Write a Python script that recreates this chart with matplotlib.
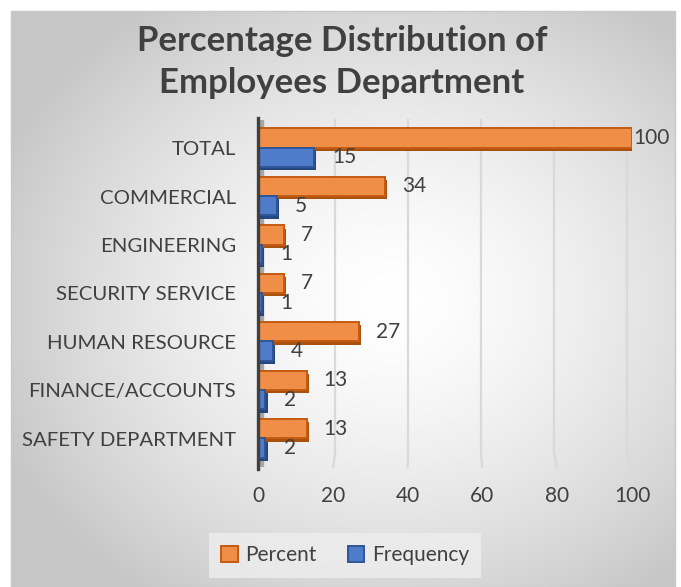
import numpy as np
import matplotlib
matplotlib.use("Agg")
import matplotlib.pyplot as plt
from matplotlib.patches import Patch, Rectangle

# ── Data ──────────────────────────────────────────────────────────────────────
departments = ["TOTAL", "COMMERCIAL", "ENGINEERING", "SECURITY SERVICE",
               "HUMAN RESOURCE", "FINANCE/ACCOUNTS", "SAFETY DEPARTMENT"]
percent   = [100, 34, 7, 7, 27, 13, 13]
frequency = [15, 5, 1, 1, 4, 2, 2]
x_ticks   = [0, 20, 40, 60, 80, 100]

plt.rcParams["font.family"] = ["Lato", "DejaVu Sans"]
TXT = "#404040"

W, H = 681, 587
fig = plt.figure(figsize=(W / 100, H / 100), dpi=100)

# ── Chart area background: radial grey shading ───────────────────────────────
bg = fig.add_axes([0, 0, 1, 1], zorder=-10)
bg.set_xlim(0, W); bg.set_ylim(H, 0); bg.axis("off")
px0, px1, py0, py1 = 11, 675, 11, 587
yy, xx = np.mgrid[py0:py1, px0:px1]
r = np.hypot((xx - 390) / 420, (yy - 300) / 360)
shade = 1 - 0.22 * np.clip(r, 0, 1) ** 1.5
bg.imshow(np.dstack([shade] * 3), extent=(px0, px1, py1, py0), aspect="auto")
bg.add_patch(Rectangle((px0, py0), px1 - px0, py1 - py0, fill=False,
                       edgecolor="#c8c8c8", lw=1))

# ── Bars ──────────────────────────────────────────────────────────────────────
ax = fig.add_axes([258 / W, 1 - 467 / H, 374 / W, 347 / H])
ax.patch.set_alpha(0)
ax.set_xlim(0, 100)
ax.set_ylim(6.58, -0.58)
for s in ax.spines.values():
    s.set_visible(False)

y = np.arange(len(departments))
h = 0.40
dx, dy = 1.0, 0.07   # depth of the 3-D bars

# back-wall grid lines bending onto the floor
xt = ax.get_xaxis_transform()
for v in x_ticks[1:]:
    back = v - (v - 45) * 0.025
    ax.plot([back, back], [0.045, 1.0], transform=xt,
            color="#d9d9d9", lw=1.6, zorder=0, clip_on=False)
    ax.plot([back, v - (v - 45) * 0.005], [0.045, 0.0], transform=xt,
            color="#d9d9d9", lw=1.6, zorder=0, clip_on=False)

# side wall next to the category axis
ax.axvspan(0, 1.3, color="#a6a6a6", zorder=1)
ax.axvline(0, color="#404040", lw=2.4, zorder=6, ymin=-0.005, ymax=1.005,
           clip_on=False)

y_pct = y - 0.21
y_frq = y + 0.19

# depth faces
ax.barh(y_pct + dy, percent, height=h, left=dx * 0.6, color="#a9510f", zorder=2)
ax.barh(y_frq + dy, frequency, height=h, left=dx * 0.6, color="#25467f", zorder=2)
# front faces
ax.barh(y_pct, percent, height=h, color="#f08d47", edgecolor="#c55a11",
        lw=1.4, zorder=3)
ax.barh(y_frq, frequency, height=h, color="#4f7bcb", edgecolor="#2f5597",
        lw=1.4, zorder=3)

# value labels
for yp, v in zip(y_pct, percent):
    off = 1 if v >= 100 else 12
    ax.annotate(str(v), (v, yp), xytext=(off, 0), textcoords="offset points",
                va="center", ha="left", fontsize=15, color=TXT,
                annotation_clip=False, zorder=7)
for yf, v in zip(y_frq, frequency):
    ax.annotate(str(v), (v, yf), xytext=(13, 0), textcoords="offset points",
                va="center", ha="left", fontsize=15, color=TXT,
                annotation_clip=False, zorder=7)

ax.set_yticks(y)
ax.set_yticklabels(departments, fontsize=14.7, color=TXT)
ax.set_xticks(x_ticks)
ax.set_xticklabels([str(t) for t in x_ticks], fontsize=15, color=TXT)
ax.tick_params(axis="y", length=0, pad=16)
ax.tick_params(axis="x", length=0, pad=14)

# ── Title ─────────────────────────────────────────────────────────────────────
fig.text(342 / W, 1 - 62 / H, "Percentage Distribution of\nEmployees Department",
         ha="center", va="center", fontsize=25, fontweight="bold", color=TXT,
         linespacing=1.38)

# ── Legend ────────────────────────────────────────────────────────────────────
handles = [Patch(facecolor="#f08d47", edgecolor="#c55a11", lw=1.4, label="Percent"),
           Patch(facecolor="#4f7bcb", edgecolor="#2f5597", lw=1.4, label="Frequency")]
leg = fig.legend(handles=handles, loc="center", ncol=2,
                 bbox_to_anchor=(345 / W, 1 - 555 / H), frameon=True,
                 fontsize=15, handlelength=0.8, handleheight=0.8,
                 handletextpad=0.35, columnspacing=1.5, borderpad=0.6,
                 fancybox=False)
leg.get_frame().set_facecolor("#eeeeee")
leg.get_frame().set_edgecolor("none")
for t in leg.get_texts():
    t.set_color(TXT)

fig.savefig("out.png", dpi=100)
